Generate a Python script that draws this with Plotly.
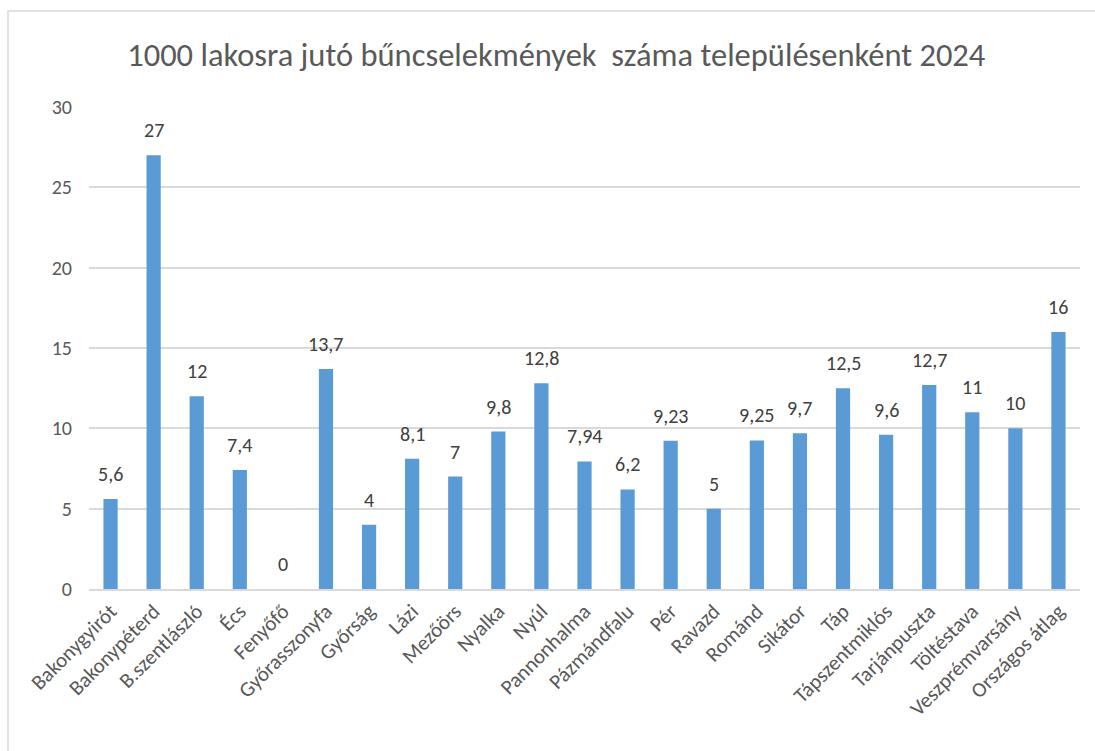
import plotly.graph_objects as go

categories = ["Bakonygyirót", "Bakonypéterd", "B.szentlászló", "Écs", "Fenyőfő",
              "Győrasszonyfa", "Győrság", "Lázi", "Mezőörs", "Nyalka", "Nyúl",
              "Pannonhalma", "Pázmándfalu", "Pér", "Ravazd", "Románd", "Sikátor",
              "Táp", "Tápszentmiklós", "Tarjánpuszta", "Töltéstava",
              "Veszprémvarsány", "Országos átlag"]
values = [5.6, 27, 12, 7.4, 0, 13.7, 4, 8.1, 7, 9.8, 12.8, 7.94, 6.2, 9.23, 5,
          9.25, 9.7, 12.5, 9.6, 12.7, 11, 10, 16]
title_text = "1000 lakosra jutó bűncselekmények  száma településenként 2024"

labels = [(str(int(v)) if float(v).is_integer() else str(v)).replace(".", ",") for v in values]

FONT = "Carlito, Lato, 'Open Sans', sans-serif"
GREY = "#595959"

W, H = 1095, 751
ml, mr, mt, mb = 89, 15, 107, 162
pw, ph = W - ml - mr, H - mt - mb

def px_x(x):
    return (x - ml) / pw

def px_y(y):
    return (H - mb - y) / ph

fig = go.Figure(go.Bar(
    x=categories, y=values,
    marker=dict(color="#5B9BD5", line=dict(width=0)),
    cliponaxis=False, hoverinfo="x+y",
))

annotations = [dict(x=c, y=v, text=t, showarrow=False, xref="x", yref="y",
                    yanchor="bottom", yshift=11,
                    font=dict(size=20, color="#404040", family=FONT))
               for c, v, t in zip(categories, values, labels)]

fig.update_layout(
    width=W, height=H,
    margin=dict(l=ml, r=mr, t=mt, b=mb),
    paper_bgcolor="white", plot_bgcolor="white",
    bargap=0.67,
    showlegend=False,
    font=dict(family=FONT, color=GREY),
    title=dict(text=title_text, x=0.508, xanchor="center", y=1 - 55 / H,
               yanchor="middle", yref="container",
               font=dict(size=32.5, color=GREY, family=FONT)),
    xaxis=dict(tickangle=-45, tickfont=dict(size=21, color=GREY, family=FONT),
               showline=True, linecolor="#D9D9D9", linewidth=1.5,
               ticks="", showgrid=False),
    yaxis=dict(range=[0, 30], dtick=5, tickfont=dict(size=20, color=GREY, family=FONT),
               showgrid=True, gridcolor="#D9D9D9", gridwidth=1.5,
               zeroline=False, showline=False, ticks="", ticklabelstandoff=16),
    annotations=annotations,
    shapes=[dict(type="rect", xref="paper", yref="paper",
                 x0=px_x(8), x1=px_x(1110), y0=px_y(780), y1=px_y(11),
                 line=dict(color="#D9D9D9", width=1.5), fillcolor="rgba(0,0,0,0)",
                 layer="below")],
)

fig.write_html("out.html", config={"displayModeBar": False},
               post_script="document.body.style.margin='0';document.body.style.overflow='hidden';")
